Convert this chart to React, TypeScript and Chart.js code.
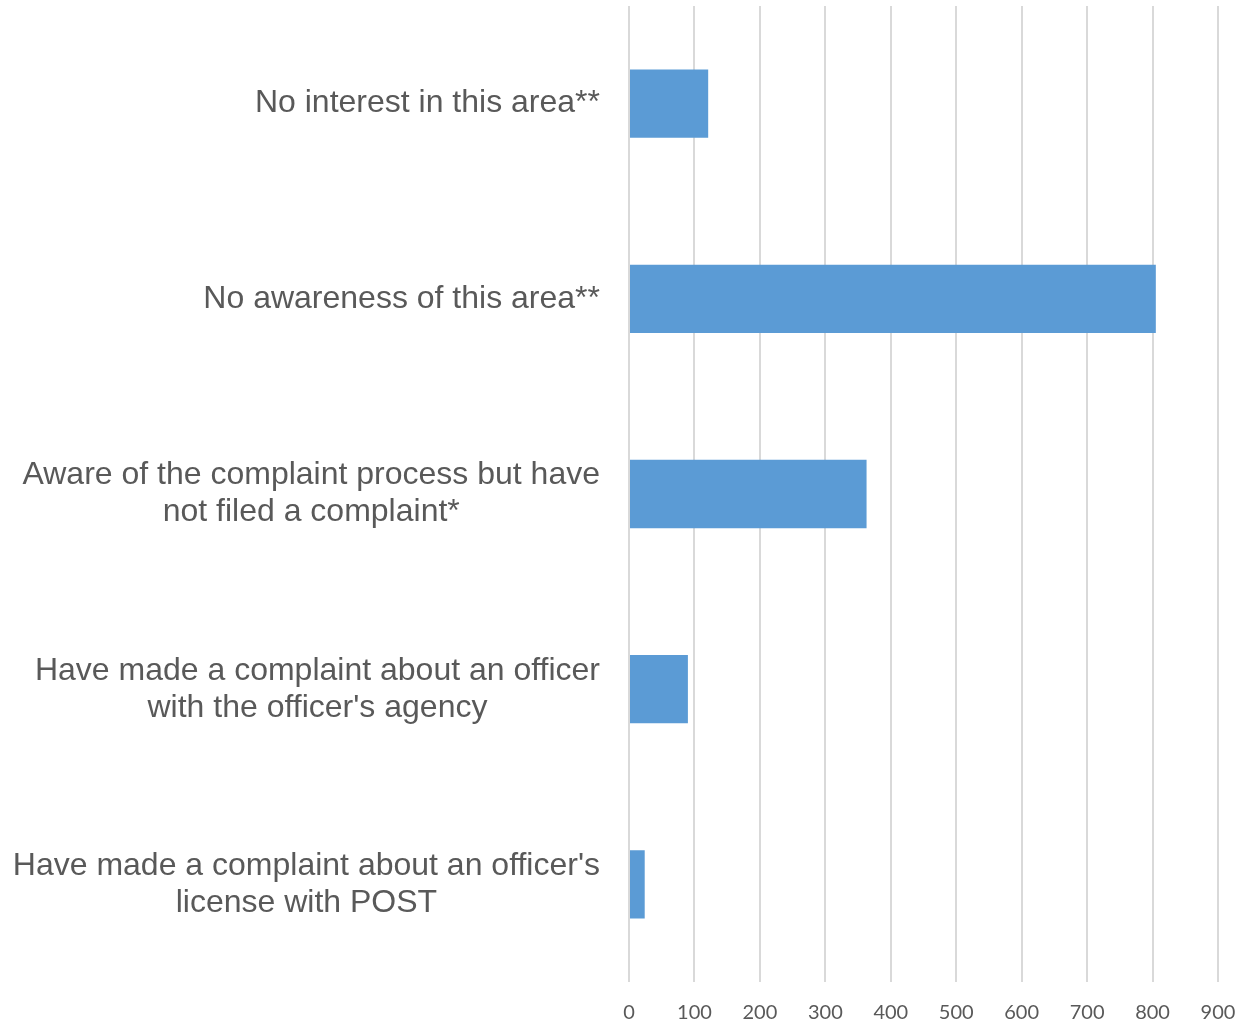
import React, { useEffect, useRef } from "react";
import { Chart, registerables } from "chart.js";

Chart.register(...registerables);

const categories: string[][] = [
  ["No interest in this area**"],
  ["No awareness of this area**"],
  ["Aware of the complaint process but have", "not filed a complaint*"],
  ["Have made a complaint about an officer", "with the officer's agency"],
  ["Have made a complaint about an officer's", "license with POST"],
];
const values: number[] = [121, 805, 363, 90, 24];
const xMin = 0;
const xMax = 900;
const xStep = 100;

const TEXT = "#595959";
const LABEL_FONT = '32px "Liberation Sans", Arial, sans-serif';

const labelPlugin = {
  id: "blockLabels",
  afterDraw(chart: any) {
    const ctx = chart.ctx;
    const yScale = chart.scales.y;
    const right = chart.chartArea.left - 29;
    const lineH = 37;
    ctx.save();
    ctx.font = LABEL_FONT;
    ctx.fillStyle = TEXT;
    ctx.textAlign = "center";
    ctx.textBaseline = "middle";
    categories.forEach((lines, i) => {
      const y = yScale.getPixelForTick(i);
      const w = Math.max(...lines.map((l) => ctx.measureText(l).width));
      const cx = right - w / 2;
      const y0 = y - ((lines.length - 1) * lineH) / 2;
      lines.forEach((l, j) => ctx.fillText(l, cx, y0 + j * lineH));
    });
    ctx.restore();
  },
};

export default function App() {
  const ref = useRef<HTMLCanvasElement | null>(null);
  useEffect(() => {
    if (!ref.current) return;
    const chart = new Chart(ref.current, {
      type: "bar",
      data: {
        labels: categories.map((c) => c.join(" ")),
        datasets: [
          {
            data: values,
            backgroundColor: "#5b9bd5",
            borderWidth: 0,
            barPercentage: 0.35,
            categoryPercentage: 1,
          },
        ],
      },
      options: {
        indexAxis: "y",
        animation: false,
        responsive: false,
        maintainAspectRatio: false,
        layout: { padding: { top: 6, right: 20, left: 0, bottom: 0 } },
        plugins: { legend: { display: false }, tooltip: { enabled: false } },
        scales: {
          x: {
            min: xMin,
            max: xMax,
            ticks: {
              stepSize: xStep,
              color: TEXT,
              font: { family: "Lato", size: 20 },
              padding: 19,
            },
            grid: { color: "#d9d9d9", lineWidth: 2, drawTicks: false },
            border: { display: false },
            afterFit: (s: any) => {
              s.height = 42;
              s.paddingRight = 0;
              s.paddingLeft = 0;
            },
          },
          y: {
            ticks: { display: false },
            grid: { display: false },
            border: { display: false },
            afterFit: (s: any) => {
              s.width = 629;
            },
          },
        },
      },
      plugins: [labelPlugin],
    });
    return () => chart.destroy();
  }, []);
  return (
    <div style={{ position: "fixed", left: 0, top: 0, width: 1238, height: 1024, background: "#fff" }}>
      <canvas ref={ref} width={1238} height={1024} style={{ width: 1238, height: 1024 }} />
    </div>
  );
}
